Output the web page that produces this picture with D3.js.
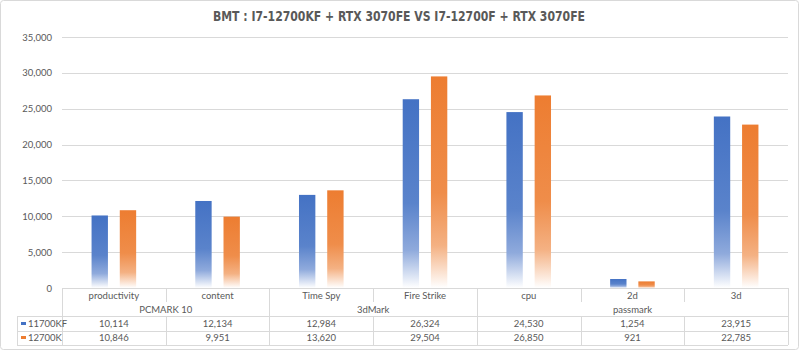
<!DOCTYPE html>
<html>
<head>
<meta charset="utf-8">
<script src="https://cdn.jsdelivr.net/npm/d3@7"></script>
<style>
  body { margin: 0; background: #fff; }
  text { font-family: Lato, "Open Sans", "Liberation Sans", sans-serif; fill: #595959; }
</style>
</head>
<body>
<div id="chart"></div>
<script>
const categories = ["productivity", "content", "Time Spy", "Fire Strike", "cpu", "2d", "3d"];
const groups = [
    { name: "PCMARK 10", from: 0, to: 1 },
    { name: "3dMark", from: 2, to: 3 },
    { name: "passmark", from: 4, to: 6 }
];
const seriesNames = ["11700KF", "12700K"];
const values11700KF = [10114, 12134, 12984, 26324, 24530, 1254, 23915];
const values12700K = [10846, 9951, 13620, 29504, 26850, 921, 22785];
const yTicks = [0, 5000, 10000, 15000, 20000, 25000, 30000, 35000];
const colors = ["#4472C4", "#ED7D31"];

const width = 800, height = 351;
const plotLeft = 62, plotRight = 788, plotTop = 37, base = 288;
const rowLine1 = 316, rowLine2 = 331, rowLine3 = 345, tableLeft = 17;
const lineColor = "#d9d9d9";
const fs = "9.5px";

const svg = d3.select("#chart").append("svg")
    .attr("width", width)
    .attr("height", height);

// chart border
svg.append("rect")
    .attr("x", 0.5).attr("y", 0.5)
    .attr("width", width - 2).attr("height", height - 2)
    .attr("rx", 3)
    .attr("fill", "#fff")
    .attr("stroke", lineColor);

const defs = svg.append("defs");
colors.forEach((c, i) => {
    const g = defs.append("linearGradient")
        .attr("id", "grad" + i)
        .attr("x1", 0).attr("y1", 0).attr("x2", 0).attr("y2", 1);
    const light = d3.interpolateRgb(c, "#fff");
    g.append("stop").attr("offset", "0%").attr("stop-color", c);
    g.append("stop").attr("offset", "55%").attr("stop-color", light(0.12));
    g.append("stop").attr("offset", "80%").attr("stop-color", light(0.4));
    g.append("stop").attr("offset", "100%").attr("stop-color", "#fff");
});

svg.append("text")
    .attr("x", 399).attr("y", 21)
    .attr("text-anchor", "middle")
    .attr("textLength", 372)
    .attr("lengthAdjust", "spacingAndGlyphs")
    .style("font-family", "'DejaVu Sans Condensed', 'DejaVu Sans', sans-serif")
    .style("font-size", "13.5px")
    .style("font-weight", "bold")
    .text("BMT : I7-12700KF + RTX 3070FE VS I7-12700F + RTX 3070FE");

const x = d3.scaleBand().domain(categories).range([plotLeft, plotRight]);
const bw = x.bandwidth();
const x1 = d3.scaleBand().domain(seriesNames)
    .range([bw * 0.285, bw * 0.715]).paddingInner(0.42);
const y = d3.scaleLinear().domain([0, 35000]).range([base, plotTop]);

// gridlines
svg.append("g")
    .selectAll("line")
    .data(yTicks.filter(d => d > 0))
    .enter().append("line")
    .attr("x1", plotLeft).attr("x2", plotRight)
    .attr("y1", d => Math.round(y(d)) + 0.5)
    .attr("y2", d => Math.round(y(d)) + 0.5)
    .attr("stroke", lineColor);

// y axis labels
svg.append("g")
    .selectAll("text")
    .data(yTicks)
    .enter().append("text")
    .attr("x", 52)
    .attr("y", d => y(d) + 3.5)
    .attr("text-anchor", "end")
    .style("font-size", fs)
    .text(d => d3.format(",")(d));

// bars
const allValues = [values11700KF, values12700K];
seriesNames.forEach((s, si) => {
    svg.append("g")
        .selectAll("rect")
        .data(categories)
        .enter().append("rect")
        .attr("x", d => x(d) + x1(s))
        .attr("y", (d, i) => y(allValues[si][i]))
        .attr("width", x1.bandwidth())
        .attr("height", (d, i) => base - y(allValues[si][i]))
        .attr("fill", "url(#grad" + si + ")");
});

// table lines
const table = svg.append("g").attr("stroke", lineColor).attr("fill", "none");
table.append("line").attr("x1", plotLeft).attr("x2", plotRight).attr("y1", base + 0.5).attr("y2", base + 0.5);
[rowLine1, rowLine2, rowLine3].forEach(yy => {
    table.append("line").attr("x1", tableLeft).attr("x2", plotRight).attr("y1", yy + 0.5).attr("y2", yy + 0.5);
});
// vertical lines: category row + data rows at every boundary
const bounds = categories.map(c => x(c)).concat([plotRight]);
bounds.forEach(bx => {
    const xx = Math.round(bx) + 0.5;
    table.append("line").attr("x1", xx).attr("x2", xx).attr("y1", base).attr("y2", 302);
    table.append("line").attr("x1", xx).attr("x2", xx).attr("y1", rowLine1).attr("y2", rowLine3);
});
// group boundaries through group row
const groupBounds = [x(categories[0])].concat(groups.map(g => x(categories[g.to]) + bw));
groupBounds.forEach(bx => {
    const xx = Math.round(bx) + 0.5;
    table.append("line").attr("x1", xx).attr("x2", xx).attr("y1", 302).attr("y2", rowLine1);
});
table.append("line").attr("x1", tableLeft + 0.5).attr("x2", tableLeft + 0.5).attr("y1", rowLine1).attr("y2", rowLine3);

// category labels
svg.append("g")
    .selectAll("text")
    .data(categories)
    .enter().append("text")
    .attr("x", d => x(d) + bw / 2)
    .attr("y", 298.5)
    .attr("text-anchor", "middle")
    .style("font-size", fs)
    .text(d => d);

// group labels
svg.append("g")
    .selectAll("text")
    .data(groups)
    .enter().append("text")
    .attr("x", d => (x(categories[d.from]) + x(categories[d.to]) + bw) / 2)
    .attr("y", 312.5)
    .attr("text-anchor", "middle")
    .style("font-size", fs)
    .text(d => d.name);

// data rows
allValues.forEach((vals, si) => {
    const rowY = si === 0 ? 327 : 341;
    svg.append("rect")
        .attr("x", 21).attr("y", rowY - 5)
        .attr("width", 5).attr("height", 3)
        .attr("fill", colors[si]);
    svg.append("text")
        .attr("x", 28).attr("y", rowY)
        .style("font-size", fs)
        .text(seriesNames[si]);
    svg.append("g")
        .selectAll("text")
        .data(vals)
        .enter().append("text")
        .attr("x", (d, i) => x(categories[i]) + bw / 2)
        .attr("y", rowY)
        .attr("text-anchor", "middle")
        .style("font-size", fs)
        .text(d => d3.format(",")(d));
});
</script>
</body>
</html>
